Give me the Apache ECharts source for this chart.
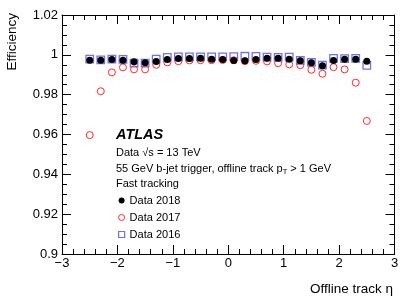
<!DOCTYPE html>
<html>
<head>
<meta charset="utf-8">
<script src="https://cdn.jsdelivr.net/npm/echarts@6/dist/echarts.min.js"></script>
<style>html,body{margin:0;padding:0;background:#fff}#c{width:415px;height:298px}</style>
</head>
<body>
<div id="c"></div>
<script>
var eta = [-2.5,-2.3,-2.1,-1.9,-1.7,-1.5,-1.3,-1.1,-0.9,-0.7,-0.5,-0.3,-0.1,0.1,0.3,0.5,0.7,0.9,1.1,1.3,1.5,1.7,1.9,2.1,2.3,2.5];
var eff2018 = [0.9973,0.9973,0.9977,0.9973,0.9965,0.9960,0.9967,0.9977,0.9982,0.9982,0.9983,0.9978,0.9976,0.9972,0.9970,0.9977,0.9983,0.9983,0.9978,0.9970,0.9960,0.9945,0.9972,0.9978,0.9978,0.9968];
var eff2017 = [0.9597,0.9817,0.9912,0.9937,0.9927,0.9927,0.9950,0.9962,0.9968,0.9972,0.9973,0.9973,0.9974,0.9973,0.9968,0.9970,0.9967,0.9958,0.9952,0.9948,0.9925,0.9905,0.9938,0.9927,0.9860,0.9668];
var eff2016 = [0.9978,0.9975,0.9978,0.9977,0.9958,0.9958,0.9978,0.9987,0.9990,0.9990,0.9990,0.9990,0.9990,0.9991,0.9993,0.9992,0.9988,0.9987,0.9988,0.9972,0.9962,0.9948,0.9982,0.9981,0.9982,0.9947];
var seriesNames = ['Data 2018','Data 2017','Data 2016'];
var xTickMin = -3, xTickMax = 3, xTickStep = 1;
var yTickMin = 0.9, yTickMax = 1.02, yTickStep = 0.02;

var FONT = '"Liberation Sans", Arial, Helvetica, sans-serif';
var RED = '#ff2a2a', BLUE = '#7070f0';
function pairs(ys){ return eta.map(function(x,i){ return [x, ys[i]]; }); }

var chart = echarts.init(document.getElementById('c'), null, {renderer:'canvas'});
var axisCommon = {
  axisLine:{show:true, onZero:false, lineStyle:{color:'#000', width:1}},
  axisTick:{show:true, inside:true, length:9, lineStyle:{color:'#000'}},
  minorTick:{show:true, length:5, lineStyle:{color:'#000'}},
  splitLine:{show:false}
};
function mk(base, extra){ return Object.assign({}, JSON.parse(JSON.stringify(base)), extra); }

var option = {
  animation:false,
  backgroundColor:'#fff',
  grid:{left:62, right:20.5, top:15, bottom:44},
  xAxis:[
    mk(axisCommon, {type:'value', min:xTickMin, max:xTickMax, interval:xTickStep, position:'bottom',
      minorTick:{show:true, splitNumber:5, length:5, lineStyle:{color:'#000'}},
      axisLabel:{color:'#000', fontFamily:FONT, fontSize:13, margin:3,
        formatter:function(v){ return String(v).replace('-', '\u2212'); }}}),
    mk(axisCommon, {type:'value', min:xTickMin, max:xTickMax, interval:xTickStep, position:'top',
      minorTick:{show:true, splitNumber:5, length:5, lineStyle:{color:'#000'}},
      axisLabel:{show:false}})
  ],
  yAxis:[
    mk(axisCommon, {type:'value', min:yTickMin, max:yTickMax, interval:yTickStep, position:'left',
      minorTick:{show:true, splitNumber:4, length:5, lineStyle:{color:'#000'}},
      axisLabel:{color:'#000', fontFamily:FONT, fontSize:13, margin:4,
        formatter:function(v){ return String(parseFloat(v.toFixed(2))); }}}),
    mk(axisCommon, {type:'value', min:yTickMin, max:yTickMax, interval:yTickStep, position:'right',
      minorTick:{show:true, splitNumber:4, length:5, lineStyle:{color:'#000'}},
      axisLabel:{show:false}})
  ],
  legend:{
    orient:'vertical', left:118, top:194, padding:0, itemWidth:6, itemHeight:6, itemGap:4,
    textStyle:{color:'#000', fontFamily:FONT, fontSize:11, lineHeight:13},
    data:[
      {name:seriesNames[0], icon:'circle', itemStyle:{color:'#000', borderWidth:0}},
      {name:seriesNames[1], icon:'circle', itemStyle:{color:'#fff', borderColor:RED, borderWidth:1}},
      {name:seriesNames[2], icon:'rect', itemStyle:{color:'#fff', borderColor:BLUE, borderWidth:1.2}}
    ]
  },
  series:[
    {name:seriesNames[2], type:'scatter', data:pairs(eff2016), symbol:'rect', symbolSize:7.5,
     itemStyle:{color:'#fff', borderColor:BLUE, borderWidth:1.3, opacity:1}, z:2},
    {name:seriesNames[1], type:'scatter', data:pairs(eff2017), symbol:'circle', symbolSize:7,
     itemStyle:{color:'rgba(255,255,255,0)', borderColor:RED, borderWidth:1, opacity:1}, z:3},
    {name:seriesNames[0], type:'scatter', data:pairs(eff2018), symbol:'circle', symbolSize:7,
     itemStyle:{color:'#000', opacity:1}, z:4}
  ],
  graphic:[
    {type:'text', x:12, y:13, rotation:Math.PI/2,
     style:{text:'Efficiency', fill:'#000', font:'13.5px '+FONT, textAlign:'right', textVerticalAlign:'middle'}},
    {type:'text', x:393, y:289,
     style:{text:'Offline track \u03b7', fill:'#000', font:'13.5px '+FONT, textAlign:'right', textVerticalAlign:'middle'}},
    {type:'text', x:116, y:135,
     style:{text:'ATLAS', fill:'#000', font:'italic bold 14.5px '+FONT, textVerticalAlign:'middle'}},
    {type:'text', x:116, y:153,
     style:{text:'Data \u221as = 13 TeV', fill:'#000', font:'11px '+FONT, textVerticalAlign:'middle'}},
    {type:'text', x:116, y:169,
     style:{text:'55 GeV b-jet trigger, offline track p{sub|T} > 1 GeV', fill:'#000', font:'11px '+FONT, textVerticalAlign:'middle',
       rich:{sub:{fontSize:7.5, fontFamily:FONT, fill:'#000', padding:[5,0,0,0]}}}},
    {type:'text', x:116, y:184,
     style:{text:'Fast tracking', fill:'#000', font:'11px '+FONT, textVerticalAlign:'middle'}}
  ]
};
chart.setOption(option);
</script>
</body>
</html>
